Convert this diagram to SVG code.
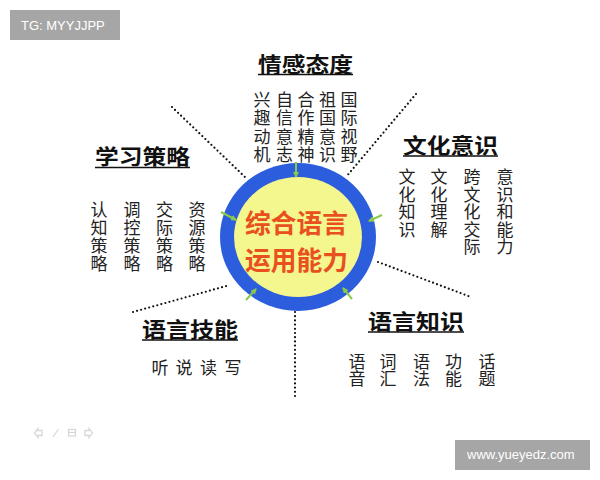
<svg xmlns="http://www.w3.org/2000/svg" width="600" height="480" viewBox="0 0 600 480">
<defs>
<style>
.title{font-family:"Noto Sans CJK SC","Liberation Sans",sans-serif;font-weight:bold;font-size:21px;fill:#111;}
.ul{stroke:#111;stroke-width:1.6;}
.body{font-family:"Noto Sans CJK SC","Liberation Sans",sans-serif;font-size:17px;fill:#222;text-anchor:middle;}
.core{font-family:"Noto Sans CJK SC","Liberation Sans",sans-serif;font-weight:bold;font-size:26px;fill:#e9501f;}
.dot{stroke:#111;stroke-width:2.2;stroke-linecap:round;stroke-dasharray:0 4.2;fill:none;}
.arr{stroke:#8cc84a;stroke-width:2;fill:none;marker-end:url(#ah);}
.wm{font-family:"Liberation Sans",Arial,sans-serif;font-size:13px;fill:#fff;}
.nav{stroke:#d8d8d8;stroke-width:1.3;fill:none;}
</style>
<marker id="ah" markerWidth="6" markerHeight="6" refX="5" refY="3" orient="auto" markerUnits="userSpaceOnUse">
<path d="M0,0 L6,3 L0,6 z" fill="#8cc84a"/>
</marker>
</defs>
<rect width="600" height="480" fill="#fff"/>

<g id="connectors">
<line class="dot" x1="172" y1="107" x2="246" y2="178"/>
<line class="dot" x1="416" y1="94" x2="346" y2="177"/>
<line class="dot" x1="133" y1="312" x2="230" y2="285"/>
<line class="dot" x1="378" y1="262" x2="471" y2="297"/>
<line class="dot" x1="295" y1="312" x2="295" y2="398"/>
</g>

<g id="core">
<ellipse cx="298" cy="237" rx="78" ry="74" fill="#2c5ddc"/>
<ellipse cx="298" cy="237" rx="64" ry="60" fill="#f4f68e"/>
<text class="core" x="245" y="233" textLength="103" lengthAdjust="spacingAndGlyphs">综合语言</text>
<text class="core" x="245" y="270" textLength="103" lengthAdjust="spacingAndGlyphs">运用能力</text>
<g id="core-arrows">
<line class="arr" x1="296" y1="162" x2="296" y2="177"/>
<line class="arr" x1="221" y1="212" x2="236" y2="220"/>
<line class="arr" x1="382" y1="215" x2="369" y2="221"/>
<line class="arr" x1="246" y1="300" x2="256" y2="289"/>
<line class="arr" x1="352" y1="299" x2="343" y2="288"/>
</g>
</g>

<g id="node-emotion">
<text class="title" x="258" y="72" textLength="95" lengthAdjust="spacingAndGlyphs">情感态度</text>
<line class="ul" x1="258" y1="74.5" x2="353" y2="74.5"/>
<text class="body" x="262 262 262 262" y="106 124 143 161">兴趣动机</text>
<text class="body" x="284.5 284.5 284.5 284.5" y="106 124 143 161">自信意志</text>
<text class="body" x="306 306 306 306" y="106 124 143 161">合作精神</text>
<text class="body" x="327.5 327.5 327.5 327.5" y="106 124 143 161">祖国意识</text>
<text class="body" x="349 349 349 349" y="106 124 143 161">国际视野</text>
</g>

<g id="node-strategy">
<text class="title" x="95" y="164" textLength="95" lengthAdjust="spacingAndGlyphs">学习策略</text>
<line class="ul" x1="95" y1="167.5" x2="190" y2="167.5"/>
<text class="body" x="99 99 99 99" y="216 234 252 270">认知策略</text>
<text class="body" x="132 132 132 132" y="216 234 252 270">调控策略</text>
<text class="body" x="164.5 164.5 164.5 164.5" y="216 234 252 270">交际策略</text>
<text class="body" x="197 197 197 197" y="216 234 252 270">资源策略</text>
</g>

<g id="node-culture">
<text class="title" x="403" y="153" textLength="95" lengthAdjust="spacingAndGlyphs">文化意识</text>
<line class="ul" x1="403" y1="156" x2="498" y2="156"/>
<text class="body" x="407 407 407 407" y="183 200.5 218 235.5">文化知识</text>
<text class="body" x="439 439 439 439" y="183 200.5 218 235.5">文化理解</text>
<text class="body" x="472 472 472 472 472" y="183 200.5 218 235.5 253">跨文化交际</text>
<text class="body" x="505 505 505 505 505" y="183 200.5 218 235.5 253">意识和能力</text>
</g>

<g id="node-skills">
<text class="title" x="142" y="337" textLength="96" lengthAdjust="spacingAndGlyphs">语言技能</text>
<line class="ul" x1="142" y1="340" x2="238" y2="340"/>
<text class="body" x="160 184 208.5 233" y="374">听说读写</text>
</g>

<g id="node-knowledge">
<text class="title" x="368" y="329" textLength="96" lengthAdjust="spacingAndGlyphs">语言知识</text>
<line class="ul" x1="368" y1="332" x2="464" y2="332"/>
<text class="body" x="357 357" y="368 385">语音</text>
<text class="body" x="388 388" y="368 385">词汇</text>
<text class="body" x="421.5 421.5" y="368 385">语法</text>
<text class="body" x="453.5 453.5" y="368 385">功能</text>
<text class="body" x="487 487" y="368 385">话题</text>
</g>

<g id="watermark-tl">
<rect x="10" y="10" width="110" height="30" fill="#a6a6a6"/>
<text class="wm" x="21" y="30">TG: MYYJJPP</text>
</g>
<g id="watermark-br">
<rect x="455" y="440" width="135" height="30" fill="#a6a6a6"/>
<text class="wm" x="467" y="459">www.yueyedz.com</text>
</g>

<g id="nav-icons">
<path class="nav" d="M42,430.5 L38,430.5 L38,428.5 L34.5,433 L38,437.5 L38,435.5 L42,435.5 z"/>
<line class="nav" x1="53" y1="437" x2="58.5" y2="429"/>
<rect class="nav" x="68.5" y="429.5" width="7" height="6.5"/>
<line class="nav" x1="68.5" y1="432.5" x2="75.5" y2="432.5"/>
<path class="nav" d="M85,430.5 L89,430.5 L89,428.5 L92.5,433 L89,437.5 L89,435.5 L85,435.5 z"/>
</g>
</svg>
